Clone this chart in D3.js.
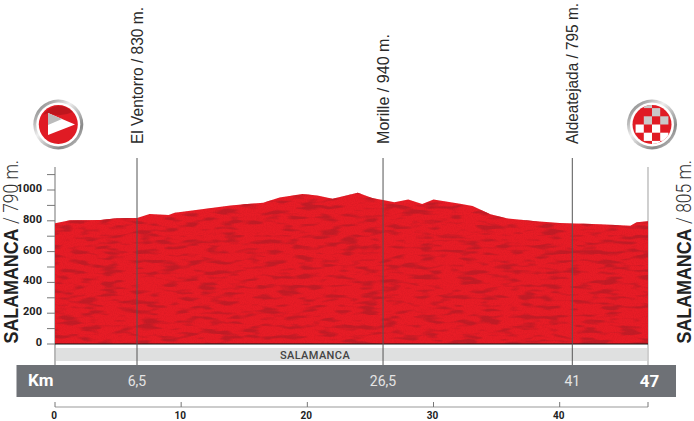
<!DOCTYPE html>
<html>
<head>
<meta charset="utf-8">
<script src="https://cdn.jsdelivr.net/npm/d3@7"></script>
<style>
  html, body { margin: 0; padding: 0; background: #fff; }
  svg { display: block; }
  text { font-family: "Roboto", sans-serif; }
  .name { font-family: "Liberation Sans", sans-serif; }
  .narrow { font-family: "Liberation Sans Narrow", "Roboto", sans-serif; }
</style>
</head>
<body>
<svg id="chart" width="694" height="421" viewBox="0 0 694 421"></svg>
<script>
// profile
const profileKm = [0, 1.2, 3.6, 4.9, 6.5, 7.5, 9, 9.5, 13.9, 16.5, 17.8, 19.6, 20.8, 22, 24, 25.2, 26, 26.9, 28, 29.1, 30, 32.1, 33.1, 34.5, 35.8, 37.9, 40, 43.2, 45.6, 46.1, 47];
const profileElev = [784, 803, 805, 816, 818, 844, 838, 853, 900, 917, 952, 974, 965, 943, 982, 946, 935, 920, 939, 909, 939, 911, 896, 842, 816, 799, 786, 777, 768, 790, 797];

const markerKm = [6.5, 26, 41];
const markerKmLabels = ["6,5", "26,5", "41"];
const markerNames = ["El Ventorro / 830 m.", "Morille / 940 m.", "Aldeatejada / 795 m."];
const markerNameLengths = [137, 110, 141];

const elevTicks = [0, 100, 200, 300, 400, 500, 600, 700, 800, 900, 1000, 1100];
const elevLabels = [0, 200, 400, 600, 800, 1000];
const kmTicks = [0, 10, 20, 30, 40, 47];
const kmLabels = [0, 10, 20, 30, 40];

const svg = d3.select("#chart");
const x = d3.scaleLinear().domain([0, 47]).range([55, 648]);
const y = d3.scaleLinear().domain([0, 1000]).range([344, 190]);
const defs = svg.append("defs");

// mottled texture on the profile
function noiseFilter(id, freq, octaves, seed, matrix) {
    const f = defs.append("filter").attr("id", id)
        .attr("color-interpolation-filters", "sRGB")
        .attr("x", 0).attr("y", 0).attr("width", 1).attr("height", 1);
    f.append("feTurbulence").attr("type", "fractalNoise")
        .attr("baseFrequency", freq).attr("numOctaves", octaves).attr("seed", seed).attr("result", "n");
    f.append("feColorMatrix").attr("in", "n").attr("type", "matrix").attr("values", matrix).attr("result", "m");
    f.append("feComposite").attr("in", "m").attr("in2", "SourceAlpha").attr("operator", "in");
}
noiseFilter("mottle", "0.05 0.2", 2, 11, "0 0 0 0 0.76  0 0 0 0 0.11  0 0 0 0 0.15  5 0 0 0 -2.5");
noiseFilter("grain", "0.9 0.9", 1, 3, "0 0 0 0 0.70  0 0 0 0 0.08  0 0 0 0 0.12  0.5 0 0 0 -0.2");

// left and right frame lines
svg.append("line").attr("x1", x(0)).attr("x2", x(0)).attr("y1", 167).attr("y2", 365)
    .attr("stroke", "#8a8a8a").attr("stroke-width", 1.2);
svg.append("line").attr("x1", x(47)).attr("x2", x(47)).attr("y1", 167).attr("y2", 365)
    .attr("stroke", "#b0b0b0").attr("stroke-width", 1.2);

// area
const area = d3.area().x((d, i) => x(profileKm[i])).y0(y(0)).y1(d => y(d));
svg.append("path").datum(profileElev).attr("d", area).attr("fill", "#e81c26");
svg.append("path").datum(profileElev).attr("d", area).attr("fill", "#000").attr("filter", "url(#mottle)");
svg.append("path").datum(profileElev).attr("d", area).attr("fill", "#000").attr("filter", "url(#grain)");

// elevation axis
const yAxis = svg.append("g");
yAxis.selectAll("line").data(elevTicks).enter().append("line")
    .attr("x1", 47).attr("x2", 55)
    .attr("y1", d => y(d)).attr("y2", d => y(d))
    .attr("stroke", "#777").attr("stroke-width", 1);
yAxis.selectAll("text").data(elevLabels).enter().append("text").attr("class", "narrow")
    .attr("x", 42).attr("y", d => y(d) + 2)
    .attr("text-anchor", "end").attr("font-size", 11).attr("font-weight", 700)
    .attr("fill", "#222").text(d => d);

// town band
svg.append("rect").attr("x", x(0) + 1).attr("y", 348).attr("width", x(47) - x(0) - 2).attr("height", 13).attr("fill", "#dfe0e0");
svg.append("text").attr("x", 315).attr("y", 358.5).attr("text-anchor", "middle")
    .attr("font-size", 11).attr("font-weight", 500).attr("letter-spacing", 0.4).attr("fill", "#444").text("SALAMANCA");

// baseline
svg.append("line").attr("x1", x(0)).attr("x2", x(47)).attr("y1", y(0)).attr("y2", y(0))
    .attr("stroke", "#111").attr("stroke-width", 1.2);

// km bar
svg.append("rect").attr("x", 16.5).attr("y", 365).attr("width", 659.5).attr("height", 32).attr("fill", "#6e7176");
svg.append("text").attr("x", 28).attr("y", 386).attr("font-size", 17).attr("font-weight", 700).attr("fill", "#fff").text("Km");
svg.append("text").attr("x", 649.5).attr("y", 387).attr("text-anchor", "middle").attr("font-size", 17).attr("font-weight", 700).attr("fill", "#fff").text("47");

// marker lines and labels
const markers = svg.append("g").selectAll("g").data(markerKm).enter().append("g");
markers.append("line")
    .attr("x1", d => x(d)).attr("x2", d => x(d)).attr("y1", 158).attr("y2", 365)
    .attr("stroke", "#555").attr("stroke-width", 1);
markers.append("text")
    .attr("x", d => x(d)).attr("y", 386).attr("text-anchor", "middle")
    .attr("font-size", 14).attr("fill", "#e4e4e4").text((d, i) => markerKmLabels[i]);
markers.append("text").attr("class", "name")
    .attr("transform", d => `translate(${x(d) + 6},144) rotate(-90)`)
    .attr("font-size", 16).attr("fill", "#2a2a2a")
    .attr("textLength", (d, i) => markerNameLengths[i]).attr("lengthAdjust", "spacingAndGlyphs")
    .text((d, i) => markerNames[i]);

// km axis
const xAxis = svg.append("g");
xAxis.append("line").attr("x1", x(0)).attr("x2", x(47)).attr("y1", 407).attr("y2", 407).attr("stroke", "#999");
xAxis.selectAll("line.t").data(kmTicks).enter().append("line").attr("class", "t")
    .attr("x1", d => x(d)).attr("x2", d => x(d)).attr("y1", 402).attr("y2", 407).attr("stroke", "#777");
xAxis.selectAll("text").data(kmLabels).enter().append("text").attr("class", "narrow")
    .attr("x", d => x(d) - 1).attr("y", 418.5).attr("text-anchor", "middle")
    .attr("font-size", 10).attr("font-weight", 700).attr("fill", "#222").text(d => d);

// start and finish towns
function town(px, place, height) {
    svg.append("text").attr("class", "name").attr("transform", `translate(${px},343.5) rotate(-90)`)
        .attr("font-size", 20.5).attr("font-weight", 700).attr("fill", "#222")
        .attr("textLength", 115).attr("lengthAdjust", "spacingAndGlyphs").text(place);
    svg.append("text").attr("transform", `translate(${px},224) rotate(-90)`)
        .attr("font-size", 20).attr("font-weight", 300).attr("fill", "#333")
        .attr("textLength", 64).attr("lengthAdjust", "spacingAndGlyphs").text("/ " + height);
}
town(17.5, "SALAMANCA", "790 m.");
town(690.5, "SALAMANCA", "805 m.");

// round badges
function badge(cx, cy, id) {
    const g = defs.append("linearGradient").attr("id", id + "Ring").attr("x1", 0).attr("y1", 0).attr("x2", 1).attr("y2", 1);
    g.append("stop").attr("offset", 0).attr("stop-color", "#666");
    g.append("stop").attr("offset", 0.4).attr("stop-color", "#eee");
    g.append("stop").attr("offset", 0.75).attr("stop-color", "#888");
    g.append("stop").attr("offset", 1).attr("stop-color", "#ddd");
    svg.append("circle").attr("cx", cx).attr("cy", cy).attr("r", 25).attr("fill", `url(#${id}Ring)`);
    svg.append("circle").attr("cx", cx).attr("cy", cy).attr("r", 22).attr("fill", "#fff");
    svg.append("circle").attr("cx", cx).attr("cy", cy).attr("r", 19.5).attr("fill", "#e01b24");
}
badge(58.3, 124.5, "start");
svg.append("path").attr("d", "M48,113 L75,124.5 L48,135 Z").attr("fill", "#fff");
svg.append("path").attr("d", "M43,115 A19,19 0 0 1 73,112 Q60,118 48,113 Z").attr("fill", "#000").attr("opacity", 0.15);
svg.append("path").attr("d", "M48,113 L62,119 Q55,122 48,125 Z").attr("fill", "#bbb");

badge(652, 124.5, "finish");
const cells = [[-1,-3],[0,-2],[-1,-1],[1,-1],[-2,0],[0,0],[-1,1],[1,1],[0,2]];
const clip = defs.append("clipPath").attr("id", "finishClip");
clip.append("circle").attr("cx", 652).attr("cy", 124.5).attr("r", 19.5);
const cg = svg.append("g").attr("clip-path", "url(#finishClip)");
cg.selectAll("rect").data(cells).enter().append("rect")
    .attr("x", d => 652 + d[0] * 8.2).attr("y", d => 124.5 + d[1] * 8.2)
    .attr("width", 8.2).attr("height", 8.2).attr("fill", d => d[1] <= -1 ? "#c9c9c9" : "#fff");
</script>
</body>
</html>
